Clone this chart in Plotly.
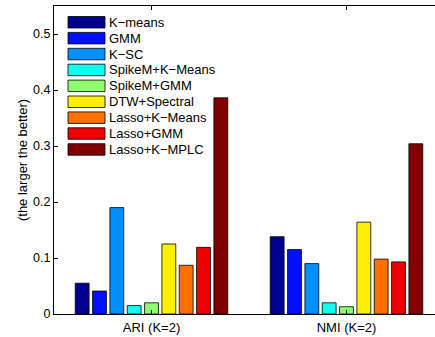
import plotly.graph_objects as go

categories = ["ARI (K=2)", "NMI (K=2)"]
methods = ["K\u2212means", "GMM", "K\u2212SC", "SpikeM+K\u2212Means", "SpikeM+GMM",
           "DTW+Spectral", "Lasso+K\u2212Means", "Lasso+GMM", "Lasso+K\u2212MPLC"]
ari = [0.055, 0.041, 0.190, 0.015, 0.020, 0.125, 0.087, 0.119, 0.386]
nmi = [0.138, 0.115, 0.090, 0.020, 0.013, 0.164, 0.098, 0.093, 0.304]
colors = ["#00008F", "#0010FF", "#008FFF", "#10FFEF", "#8FFF70",
          "#FFEF00", "#FF7000", "#EF0000", "#800000"]
y_ticks = [0, 0.1, 0.2, 0.3, 0.4, 0.5]

W, H = 435, 337
ml, mt, mb, mr = 54, 6, 23, 0
pw, ph = W - ml - mr, H - mt - mb

fig = go.Figure()
for i, m in enumerate(methods):
    fig.add_trace(go.Bar(
        x=[1, 2], y=[ari[i], nmi[i]], name=m,
        marker=dict(color=colors[i], line=dict(color="black", width=0.8)),
        showlegend=False,
    ))

# legend drawn manually (wide swatches like the original)
def px2x(px):
    return (px - ml) / pw

def py2y(py):
    return (H - mb - py) / ph

shapes = []
annotations = []
for i, m in enumerate(methods):
    top = 16.5 + 15.9 * i
    shapes.append(dict(type="rect", xref="paper", yref="paper",
                       x0=px2x(68), x1=px2x(105), y0=py2y(top + 11.5), y1=py2y(top),
                       fillcolor=colors[i], line=dict(color="black", width=0.8)))
    annotations.append(dict(xref="paper", yref="paper", x=px2x(106.5), y=py2y(top + 5.75),
                            text=m, showarrow=False, xanchor="left", yanchor="middle",
                            font=dict(size=13, color="black")))

fig.update_layout(
    width=W, height=H,
    margin=dict(l=ml, r=mr, t=mt, b=mb),
    paper_bgcolor="white", plot_bgcolor="white",
    barmode="group", bargap=0.2, bargroupgap=0.2,
    font=dict(family="Liberation Sans, Arial, sans-serif", size=13, color="black"),
    shapes=shapes, annotations=annotations,
    xaxis=dict(range=[0.5, 0.5 + pw / 195.0], tickvals=[1, 2], ticktext=categories,
               ticks="inside", ticklen=4, tickcolor="black",
               showline=True, linecolor="black", linewidth=1.2, mirror="ticks",
               showgrid=False, zeroline=False, tickfont=dict(size=13),
               ticklabelstandoff=1),
    yaxis=dict(range=[0, 0.55], tickvals=y_ticks, ticktext=["0", "0.1", "0.2", "0.3", "0.4", "0.5"],
               ticks="inside", ticklen=4, tickcolor="black",
               showline=True, linecolor="black", linewidth=1.2, mirror=False,
               showgrid=False, zeroline=False, tickfont=dict(size=12.5),
               ticklabelstandoff=0,
               title=dict(text="(the larger the better)", font=dict(size=13), standoff=2)),
)

fig.write_html("out.html")
